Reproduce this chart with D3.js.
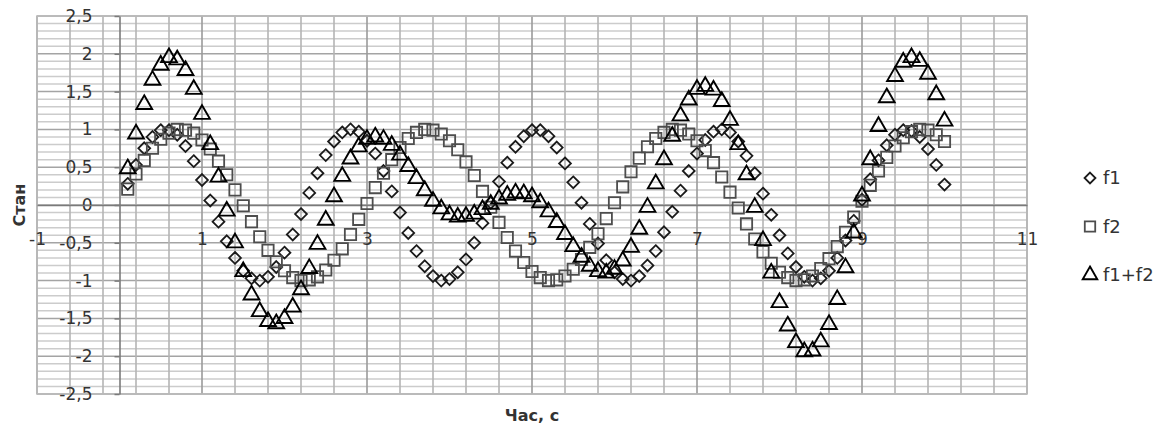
<!DOCTYPE html>
<html>
<head>
<meta charset="utf-8">
<script src="https://cdn.jsdelivr.net/npm/d3@7"></script>
<style>
  body { margin: 0; background: #fff; }
  svg text { font-family: "DejaVu Sans", sans-serif; fill: #333; }
</style>
</head>
<body>
<div id="chart"></div>
<script>
// час, с
var time = [0.1,0.2,0.3,0.4,0.5,0.6,0.7,0.8,0.9,1.0,
  1.1,1.2,1.3,1.4,1.5,1.6,1.7,1.8,1.9,2.0,
  2.1,2.2,2.3,2.4,2.5,2.6,2.7,2.8,2.9,3.0,
  3.1,3.2,3.3,3.4,3.5,3.6,3.7,3.8,3.9,4.0,
  4.1,4.2,4.3,4.4,4.5,4.6,4.7,4.8,4.9,5.0,
  5.1,5.2,5.3,5.4,5.5,5.6,5.7,5.8,5.9,6.0,
  6.1,6.2,6.3,6.4,6.5,6.6,6.7,6.8,6.9,7.0,
  7.1,7.2,7.3,7.4,7.5,7.6,7.7,7.8,7.9,8.0,
  8.1,8.2,8.3,8.4,8.5,8.6,8.7,8.8,8.9,9.0,
  9.1,9.2,9.3,9.4,9.5,9.6,9.7,9.8,9.9,10.0];

var f1 = [0.28,0.53,0.75,0.90,0.99,0.99,0.93,0.78,0.58,0.33,
  0.06,-0.22,-0.48,-0.70,-0.87,-0.97,-1.00,-0.95,-0.82,-0.63,
  -0.39,-0.12,0.16,0.42,0.66,0.84,0.96,1.00,0.97,0.85,
  0.68,0.45,0.18,-0.10,-0.37,-0.61,-0.81,-0.94,-1.00,-0.98,
  -0.89,-0.72,-0.50,-0.24,0.03,0.31,0.56,0.77,0.91,0.99,
  0.99,0.91,0.76,0.55,0.30,0.03,-0.25,-0.51,-0.73,-0.89,
  -0.98,-1.00,-0.94,-0.80,-0.61,-0.36,-0.09,0.19,0.45,0.68,
  0.86,0.97,1.00,0.96,0.84,0.65,0.42,0.15,-0.13,-0.40,
  -0.64,-0.82,-0.95,-1.00,-0.97,-0.87,-0.70,-0.47,-0.21,0.07,
  0.34,0.59,0.79,0.93,0.99,0.98,0.90,0.74,0.53,0.27];

var f2 = [0.21,0.41,0.59,0.75,0.87,0.95,1.00,0.99,0.95,0.86,
  0.74,0.58,0.40,0.20,-0.01,-0.22,-0.42,-0.60,-0.75,-0.87,
  -0.96,-1.00,-0.99,-0.95,-0.86,-0.73,-0.58,-0.39,-0.19,0.02,
  0.23,0.42,0.60,0.76,0.88,0.96,1.00,0.99,0.94,0.85,
  0.73,0.57,0.39,0.18,-0.03,-0.23,-0.43,-0.61,-0.76,-0.88,
  -0.96,-1.00,-0.99,-0.94,-0.85,-0.72,-0.56,-0.38,-0.18,0.03,
  0.24,0.44,0.62,0.77,0.88,0.96,1.00,0.99,0.94,0.85,
  0.72,0.56,0.37,0.17,-0.04,-0.25,-0.45,-0.62,-0.77,-0.89,
  -0.96,-1.00,-0.99,-0.94,-0.84,-0.71,-0.55,-0.36,-0.16,0.05,
  0.26,0.45,0.63,0.78,0.89,0.97,1.00,0.99,0.93,0.84];

var fSum = [0.48,0.94,1.33,1.65,1.85,1.95,1.92,1.78,1.53,1.20,
  0.80,0.37,-0.08,-0.50,-0.88,-1.19,-1.41,-1.54,-1.57,-1.50,
  -1.35,-1.12,-0.84,-0.52,-0.20,0.11,0.38,0.61,0.77,0.87,
  0.90,0.87,0.79,0.66,0.51,0.35,0.19,0.05,-0.05,-0.13,
  -0.16,-0.15,-0.12,-0.06,0.01,0.08,0.13,0.16,0.15,0.11,
  0.03,-0.09,-0.23,-0.39,-0.55,-0.69,-0.81,-0.88,-0.90,-0.85,
  -0.74,-0.56,-0.32,-0.03,0.28,0.60,0.91,1.18,1.39,1.53,
  1.57,1.52,1.37,1.12,0.80,0.40,-0.03,-0.47,-0.90,-1.29,
  -1.60,-1.82,-1.94,-1.93,-1.81,-1.58,-1.25,-0.83,-0.37,0.12,
  0.60,1.04,1.42,1.70,1.89,1.95,1.90,1.73,1.46,1.11];

var seriesNames = ["f1", "f2", "f1+f2"];
var xTicks = [-1, 1, 3, 5, 7, 9, 11];
var yTicks = [-2.5, -2, -1.5, -1, -0.5, 0, 0.5, 1, 1.5, 2, 2.5];

var W = 1169, H = 426;
var pLeft = 37, pRight = 1027, pTop = 16, pBottom = 394;

var svg = d3.select("#chart").append("svg")
    .attr("width", W)
    .attr("height", H);

var x = d3.scaleLinear().domain([-1, 11]).range([pLeft, pRight]);
var y = d3.scaleLinear().domain([-2.5, 2.5]).range([pBottom, pTop]);

// grid: minor 0.1 по y, 0.4 по x
var hMinor = d3.range(0, 51).map(function(i){ return -2.5 + i * 0.1; });
var vMinor = d3.range(0, 31).map(function(i){ return -1 + i * 0.4; });

var grid = svg.append("g");
grid.selectAll("line.hm").data(hMinor).enter().append("line")
    .attr("x1", pLeft).attr("x2", pRight)
    .attr("y1", function(d){ return y(d); })
    .attr("y2", function(d){ return y(d); })
    .attr("stroke", function(d, i){ return i % 5 == 0 ? "#a4a4a4" : "#cccccc"; })
    .attr("stroke-width", 1.5);
grid.selectAll("line.vm").data(vMinor).enter().append("line")
    .attr("y1", pTop).attr("y2", pBottom)
    .attr("x1", function(d){ return x(d); })
    .attr("x2", function(d){ return x(d); })
    .attr("stroke", function(d, i){ return i % 5 == 0 ? "#9a9a9a" : "#b4b4b4"; })
    .attr("stroke-width", 1.6);
svg.append("rect")
    .attr("x", pLeft).attr("y", pTop)
    .attr("width", pRight - pLeft).attr("height", pBottom - pTop)
    .attr("fill", "none").attr("stroke", "#bbbbbb").attr("stroke-width", 1.6);

// axes crossing at 0
var fmt = function(d){ return String(d).replace(".", ","); };
var yAxis = svg.append("g")
    .attr("transform", "translate(" + x(0) + ",0)")
    .call(d3.axisLeft(y).tickValues(yTicks).tickFormat(fmt).tickSize(5).tickSizeOuter(0).tickPadding(22));
var xAxis = svg.append("g")
    .attr("transform", "translate(0," + y(0) + ")")
    .call(d3.axisBottom(x).tickValues(xTicks).tickFormat(fmt).tickSize(0).tickPadding(28));
[yAxis, xAxis].forEach(function(a){
  a.select(".domain").attr("stroke", "#7a7a7a").attr("stroke-width", 1.6);
  a.selectAll(".tick line").attr("stroke", "#7a7a7a").attr("stroke-width", 1.5);
  a.selectAll(".tick text").attr("font-size", 17).attr("font-family", "DejaVu Sans").attr("fill", "#333");
});

// markers
var diamond = {
  draw: function(c, s) {
    var r = Math.sqrt(s / 2);
    c.moveTo(0, -r); c.lineTo(r, 0); c.lineTo(0, r); c.lineTo(-r, 0); c.closePath();
  }
};
var shapes = [
  { name: seriesNames[0], values: f1, type: diamond, size: 70, stroke: "#1a1a1a", sw: 1.8 },
  { name: seriesNames[1], values: f2, type: d3.symbolSquare, size: 128, stroke: "#4d4d4d", sw: 1.8 },
  { name: seriesNames[2], values: fSum, type: d3.symbolTriangle, size: 108, stroke: "#000", sw: 1.9 }
];

shapes.forEach(function(s){
  svg.append("g").selectAll("path").data(s.values).enter().append("path")
      .attr("d", d3.symbol().type(s.type).size(s.size))
      .attr("transform", function(d, i){ return "translate(" + x(time[i]) + "," + y(d) + ")"; })
      .attr("fill", "none")
      .attr("stroke", s.stroke)
      .attr("stroke-width", s.sw);
});

// legend
var leg = svg.append("g").attr("transform", "translate(1090,178)");
shapes.forEach(function(s, i){
  var row = leg.append("g").attr("transform", "translate(0," + (i * 48.5) + ")");
  row.append("path")
      .attr("d", d3.symbol().type(s.type).size(s.size * 0.85))
      .attr("fill", "none").attr("stroke", s.stroke).attr("stroke-width", s.sw);
  row.append("text")
      .attr("x", 13).attr("y", 0).attr("dy", "0.35em")
      .attr("font-size", 18)
      .text(s.name);
});

// titles
svg.append("text")
    .attr("transform", "translate(19,205) rotate(-90)")
    .attr("text-anchor", "middle").attr("dy", "0.35em")
    .attr("font-size", 16).attr("font-weight", "bold")
    .text("Стан");
svg.append("text")
    .attr("x", (pLeft + pRight) / 2).attr("y", 415)
    .attr("text-anchor", "middle").attr("dy", "0.35em")
    .attr("font-size", 16).attr("font-weight", "bold")
    .text("Час, с");
</script>
</body>
</html>
